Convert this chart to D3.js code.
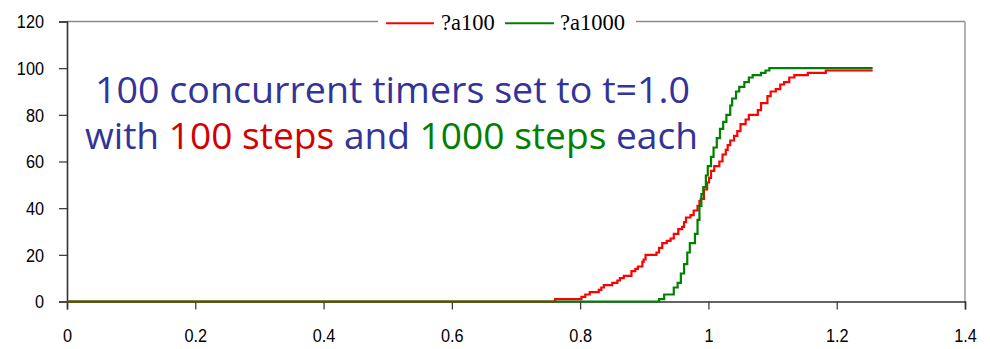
<!DOCTYPE html>
<html>
<head>
<meta charset="utf-8">
<script src="https://cdn.jsdelivr.net/npm/d3@7/dist/d3.min.js"></script>
<style>
  html, body { margin: 0; padding: 0; background: #fff; }
  svg { display: block; }
</style>
</head>
<body>
<svg id="chart" width="990" height="349"></svg>
<script>
// Cumulative count of fired timers over time: [time, count] breakpoints (step after)
const series100 = [
  [0, 0], [0.761, 1], [0.802, 2], [0.808, 3], [0.815, 4], [0.829, 5], [0.833, 6],
  [0.837, 7], [0.850, 8], [0.858, 9], [0.862, 10], [0.868, 11], [0.880, 13],
  [0.886, 14], [0.890, 15], [0.897, 17], [0.899, 18], [0.902, 20], [0.919, 21],
  [0.923, 23], [0.928, 25], [0.935, 26], [0.941, 27], [0.946, 29], [0.953, 31],
  [0.959, 32], [0.962, 34], [0.965, 36], [0.972, 37], [0.977, 39], [0.983, 41],
  [0.986, 43], [0.988, 44], [0.993, 48], [0.998, 51], [1.001, 53], [1.004, 56],
  [1.009, 58], [1.017, 60], [1.022, 63], [1.027, 65], [1.030, 67], [1.034, 69],
  [1.040, 71], [1.045, 73], [1.050, 76], [1.058, 78], [1.063, 80], [1.077, 82],
  [1.082, 85], [1.092, 88], [1.097, 90], [1.105, 91], [1.112, 93], [1.118, 94],
  [1.126, 96], [1.134, 97], [1.155, 98], [1.183, 99], [1.256, 99]
];
const series1000 = [
  [0, 0], [0.923, 1], [0.931, 3], [0.946, 6], [0.952, 8], [0.957, 12], [0.962, 16],
  [0.967, 21], [0.971, 25], [0.979, 29], [0.983, 35], [0.986, 41], [0.989, 46],
  [0.992, 49], [0.996, 54], [0.999, 58], [1.004, 62], [1.008, 66], [1.013, 70],
  [1.018, 74], [1.023, 77], [1.028, 80], [1.034, 84], [1.037, 87], [1.043, 90],
  [1.048, 92], [1.056, 94], [1.063, 96], [1.069, 97], [1.082, 98], [1.089, 99],
  [1.095, 100], [1.256, 100]
];
const seriesNames = ["?a100", "?a1000"];
const seriesColors = ["#ff0000", "#008000"];
const xTicks = [0, 0.2, 0.4, 0.6, 0.8, 1, 1.2, 1.4];
const xTickLabels = ["0", "0.2", "0.4", "0.6", "0.8", "1", "1.2", "1.4"];
const yTicks = [0, 20, 40, 60, 80, 100, 120];
const titleLines = [
  [["100 concurrent timers set to t=1.0", "#333399"]],
  [["with ", "#333399"], ["100 steps", "#d40000"], [" and ", "#333399"],
   ["1000 steps", "#008000"], [" each", "#333399"]]
];

const svg = d3.select("#chart");
const margin = { left: 67, right: 25, top: 21.5, bottom: 47.5 };
const W = 990, H = 349;
const x = d3.scaleLinear().domain([0, 1.4]).range([margin.left, W - margin.right]);
const y = d3.scaleLinear().domain([0, 120]).range([H - margin.bottom, margin.top]);

// frame: top and right edges in gray
svg.append("line").attr("x1", x(0)).attr("x2", x(1.4)).attr("y1", y(120)).attr("y2", y(120))
  .attr("stroke", "#8a8a8a").attr("stroke-width", 1.3);
svg.append("line").attr("x1", x(1.4)).attr("x2", x(1.4)).attr("y1", y(120)).attr("y2", y(0))
  .attr("stroke", "#8a8a8a").attr("stroke-width", 1.3);

const tickFont = "'Liberation Sans', Arial, sans-serif";
const sx = 0.88;

// x axis
const gx = svg.append("g").attr("transform", `translate(0,${y(0)})`)
  .call(d3.axisBottom(x).tickValues(xTicks).tickSize(8).tickPadding(0)
    .tickFormat((d, i) => xTickLabels[i]));
gx.select(".domain").attr("stroke", "#333").attr("stroke-width", 1.6);
gx.selectAll(".tick line").attr("stroke", "#333").attr("stroke-width", 1.2);
gx.selectAll(".tick text")
  .attr("font-family", tickFont).attr("font-size", 18.5).attr("fill", "#000")
  .attr("y", 41).attr("dy", 0)
  .attr("transform", `scale(${sx},1)`);

// y axis
const gy = svg.append("g").attr("transform", `translate(${x(0)},0)`)
  .call(d3.axisLeft(y).tickValues(yTicks).tickSize(8).tickPadding(0));
gy.select(".domain").attr("stroke", "#333").attr("stroke-width", 1.6);
gy.selectAll(".tick line").attr("stroke", "#333").attr("stroke-width", 1.2);
gy.selectAll(".tick text")
  .attr("font-family", tickFont).attr("font-size", 18.5).attr("fill", "#000")
  .attr("x", -23 / sx).attr("dy", "0.35em")
  .attr("transform", `scale(${sx},1)`);

// step lines
const line = d3.line().x(d => x(d[0])).y(d => y(d[1])).curve(d3.curveStepAfter);
[series100, series1000].forEach((s, i) => {
  svg.append("path").datum(s).attr("d", line)
    .attr("fill", "none").attr("stroke", seriesColors[i]).attr("stroke-width", 2.2)
    .attr("stroke-linejoin", "miter");
});

// legend sitting on the top edge
const legend = svg.append("g");
legend.append("rect").attr("x", 378).attr("y", 12).attr("width", 258).attr("height", 22).attr("fill", "#fff");
const legendItems = [
  { lx1: 386, lx2: 434, tx: 441 },
  { lx1: 505, lx2: 554, tx: 560 }
];
legendItems.forEach((it, i) => {
  legend.append("line").attr("x1", it.lx1).attr("x2", it.lx2).attr("y1", 23.3).attr("y2", 23.3)
    .attr("stroke", seriesColors[i]).attr("stroke-width", 2);
  legend.append("text").attr("x", it.tx).attr("y", 30)
    .attr("font-family", "'Liberation Serif', 'Times New Roman', serif")
    .attr("font-size", 22.5).attr("fill", "#000").text(seriesNames[i]);
});

// annotation text
const titleSpecs = [{ x: 95, y: 103, len: 595 }, { x: 85, y: 149, len: 613 }];
titleLines.forEach((parts, i) => {
  const t = svg.append("text").attr("x", titleSpecs[i].x).attr("y", titleSpecs[i].y)
    .attr("font-family", "'Open Sans', 'DejaVu Sans', sans-serif")
    .attr("font-size", 36)
    .attr("textLength", titleSpecs[i].len).attr("lengthAdjust", "spacingAndGlyphs")
    .style("white-space", "pre");
  parts.forEach(p => t.append("tspan").attr("fill", p[1]).text(p[0]));
});
</script>
</body>
</html>
